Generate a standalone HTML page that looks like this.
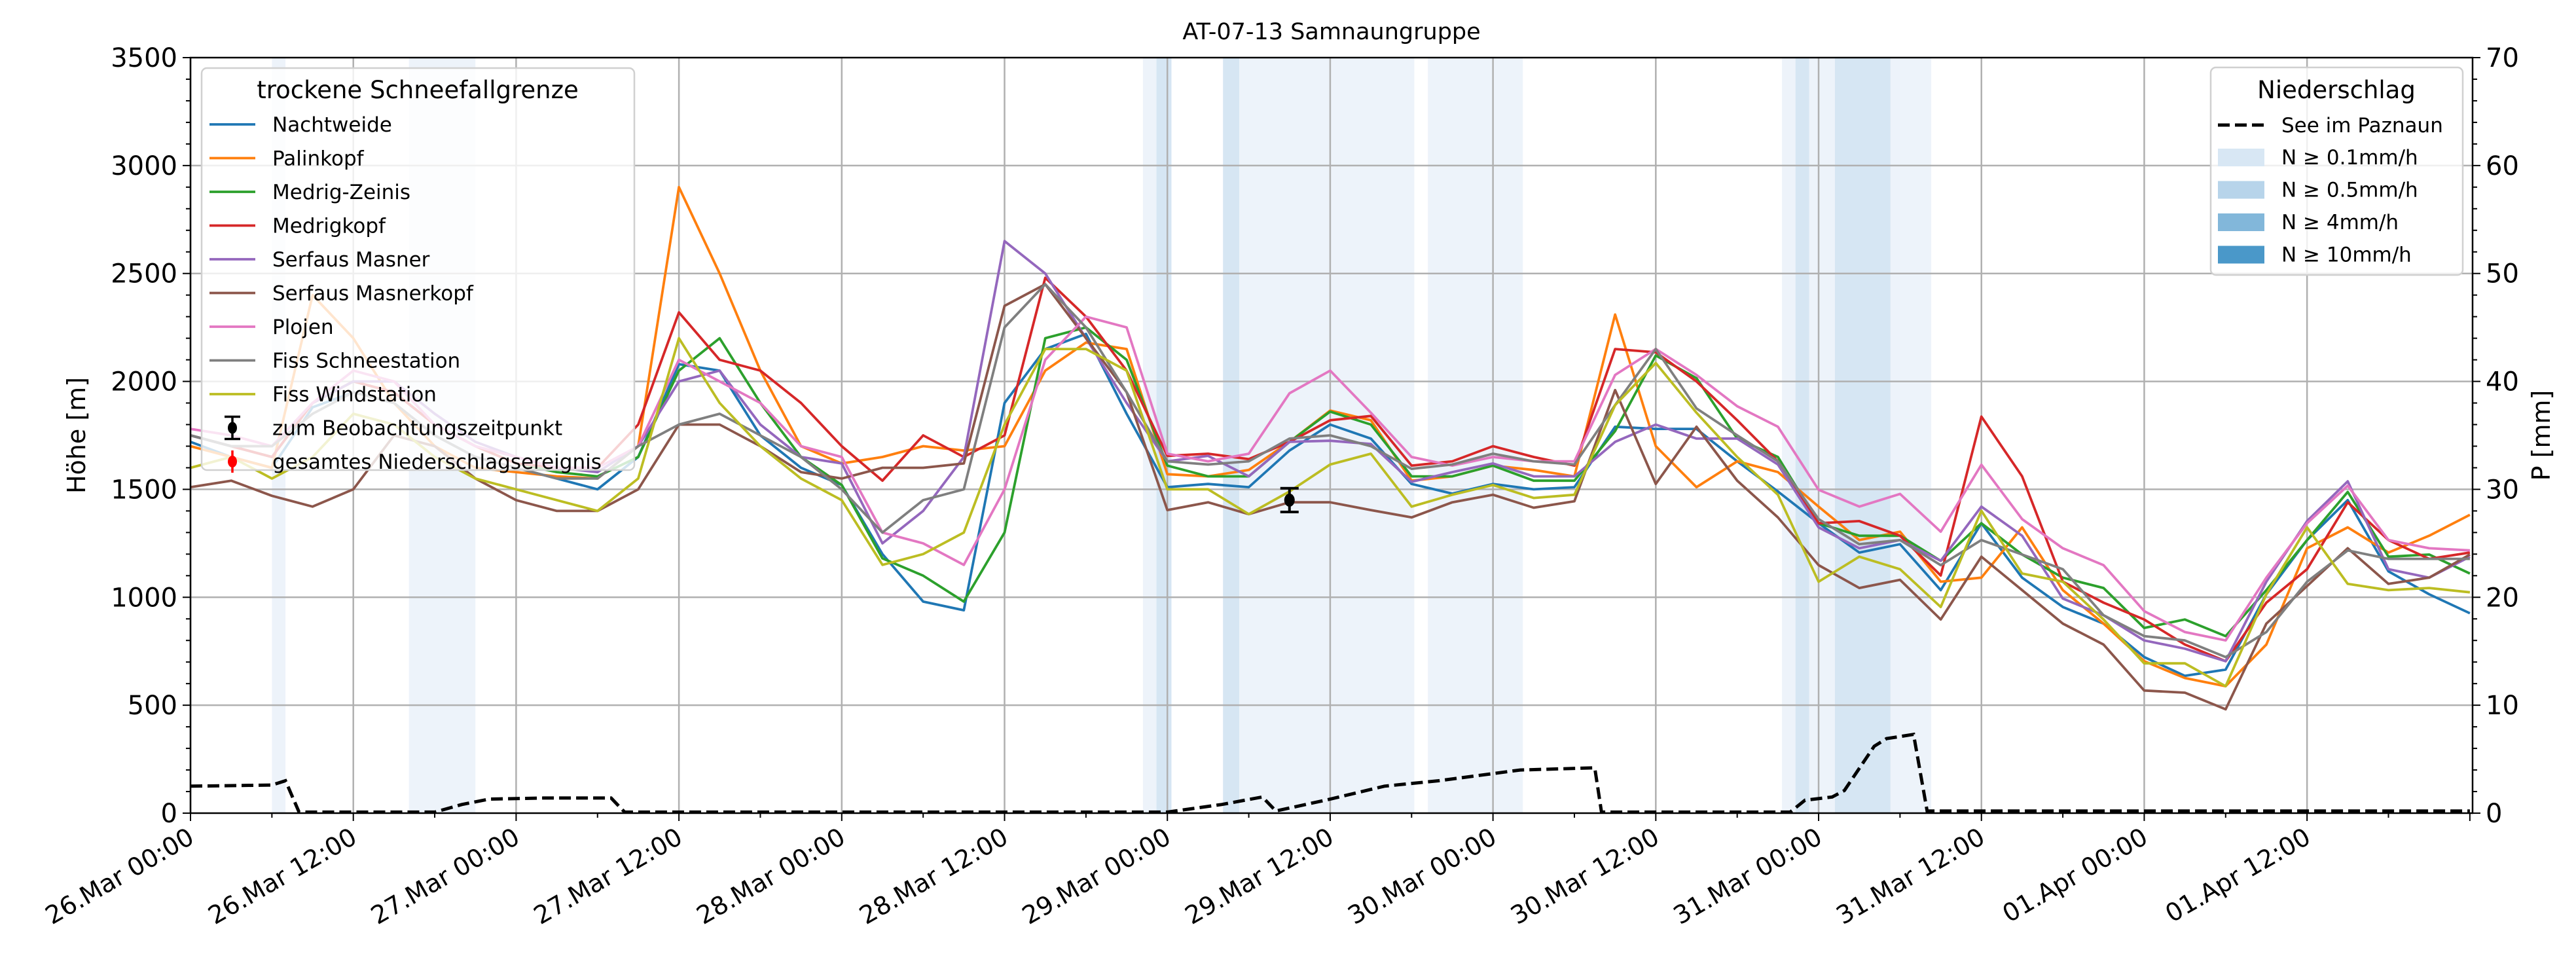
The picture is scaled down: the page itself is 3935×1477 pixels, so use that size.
<!DOCTYPE html>
<html><head><meta charset="utf-8">
<style>
html,body{margin:0;padding:0;background:#fff;}
svg{display:block;font-family:"DejaVu Sans","Liberation Sans",sans-serif;}
</style></head>
<body>
<svg id="chart" width="3935" height="1477" viewBox="0 0 3935 1477" xmlns="http://www.w3.org/2000/svg">
<rect x="0" y="0" width="3935" height="1477" fill="#fff"/>
<text x="2034" y="60" font-size="35" text-anchor="middle">AT-07-13 Samnaungruppe</text>
<g id="bands"></g>
<g id="grid"></g>
<g id="series"></g>
<g id="axes"></g>
<text x="0" y="0" font-size="38" text-anchor="middle" transform="translate(130,665) rotate(-90)">Höhe [m]</text>
<text x="0" y="0" font-size="38" text-anchor="middle" transform="translate(3895,665) rotate(-90)">P [mm]</text>
<g id="legend1"></g>
<g id="legend2"></g>
</svg>
<script>
// ---- data ----
const tickLabels = ["26.Mar 00:00","26.Mar 12:00","27.Mar 00:00","27.Mar 12:00","28.Mar 00:00","28.Mar 12:00","29.Mar 00:00","29.Mar 12:00","30.Mar 00:00","30.Mar 12:00","31.Mar 00:00","31.Mar 12:00","01.Apr 00:00","01.Apr 12:00"];
const seriesNames = ["Nachtweide","Palinkopf","Medrig-Zeinis","Medrigkopf","Serfaus Masner","Serfaus Masnerkopf","Plojen","Fiss Schneestation","Fiss Windstation"];
const seriesColors = ["#1f77b4","#ff7f0e","#2ca02c","#d62728","#9467bd","#8c564b","#e377c2","#7f7f7f","#bcbd22"];
const nachtweide = [1720,1650,1600,1880,1950,1900,1750,1650,1600,1550,1500,1650,2080,2050,1750,1600,1520,1200,980,940,1900,2150,2220,1850,
1510,1525,1510,1680,1800,1735,1525,1480,1525,1500,1510,1790,1780,1780,1630,1490,1343,1207,1246,1033,1343,1091,955,878,723,636,665,1014,1265,1450,1120,1014,926];
const palinkopf = [1700,1650,1600,2400,2200,1900,1700,1600,1580,1560,1550,1700,2900,2500,2050,1700,1620,1650,1700,1680,1700,2050,2180,2150,
1570,1560,1590,1720,1865,1820,1540,1560,1610,1590,1560,2310,1700,1510,1630,1580,1420,1265,1304,1072,1091,1324,1033,878,704,626,588,781,1227,1324,1207,1285,1382];
const medrigZeinis = [1750,1700,1650,1900,2000,1950,1800,1700,1620,1580,1560,1650,2050,2200,1900,1650,1520,1180,1100,980,1300,2200,2250,2100,
1610,1560,1560,1720,1860,1800,1560,1560,1610,1540,1540,1770,2120,2015,1735,1650,1343,1285,1285,1169,1343,1198,1091,1043,858,897,820,1033,1265,1488,1188,1198,1110];
const medrigkopf = [1750,1700,1650,1900,2000,1950,1800,1700,1620,1600,1600,1800,2320,2100,2050,1900,1700,1540,1750,1650,1750,2480,2300,2050,
1655,1665,1640,1720,1820,1840,1610,1630,1700,1650,1610,2150,2135,2000,1820,1630,1343,1353,1285,1101,1837,1560,1072,975,897,781,704,975,1130,1440,1265,1178,1207];
const serfausMasner = [1750,1700,1700,1900,2000,2000,1850,1720,1650,1600,1580,1700,2000,2050,1800,1650,1620,1250,1400,1650,2650,2500,2200,1900,
1630,1655,1560,1720,1725,1710,1535,1580,1620,1560,1560,1720,1800,1735,1735,1615,1324,1227,1265,1169,1420,1285,994,917,800,762,704,1072,1353,1537,1130,1091,1188];
const serfausMasnerkopf = [1510,1540,1470,1420,1500,1750,1700,1550,1450,1400,1400,1500,1800,1800,1700,1580,1550,1600,1600,1620,2350,2450,2200,1950,
1404,1440,1385,1440,1440,1404,1370,1440,1475,1415,1445,1960,1525,1790,1540,1370,1149,1043,1081,897,1188,1033,878,781,568,558,481,878,1052,1227,1062,1091,1198];
const plojen = [1780,1750,1700,1900,2050,2000,1800,1700,1650,1600,1600,1700,2100,2000,1900,1700,1650,1300,1250,1150,1500,2100,2300,2250,
1665,1630,1665,1945,2050,1855,1650,1610,1650,1630,1630,2030,2150,2030,1885,1790,1498,1420,1479,1304,1614,1362,1227,1149,936,839,800,1091,1343,1517,1265,1227,1217];
const fissSchnee = [1750,1700,1700,1850,1950,1900,1750,1650,1600,1550,1550,1700,1800,1850,1750,1650,1500,1300,1450,1500,2250,2450,2250,1950,
1630,1615,1630,1735,1750,1700,1595,1615,1665,1630,1615,1890,2150,1875,1750,1630,1362,1246,1265,1149,1265,1198,1130,917,820,800,723,839,1072,1217,1178,1178,1178];
const fissWind = [1600,1650,1550,1650,1850,1800,1650,1550,1500,1450,1400,1550,2200,1900,1700,1550,1450,1150,1200,1300,1800,2150,2150,2050,
1500,1500,1385,1490,1615,1665,1420,1475,1520,1460,1475,1890,2085,1855,1650,1475,1072,1188,1130,955,1401,1110,1072,897,694,694,588,1014,1324,1062,1033,1043,1023];
const allSeries = [nachtweide,palinkopf,medrigZeinis,medrigkopf,serfausMasner,serfausMasnerkopf,plojen,fissSchnee,fissWind];
const precipHours = [0,6,7,8,18,20,22,26,31,32,72,76,79,80,84,88,92,98,103.5,104,117.9,119,121,121.9,124.1,125,127,128,168];
const precipValues = [2.5,2.6,3.0,0.1,0.1,0.8,1.3,1.4,1.4,0.1,0.1,0.8,1.5,0.2,1.3,2.5,3.0,4.0,4.2,0.1,0.1,1.2,1.5,2.1,6.2,6.9,7.3,0.2,0.2];
const bandStart = [6.0,16.1,70.2,71.2,76.1,77.3,91.2,117.3,118.3,121.2,125.3];
const bandEnd   = [7.0,21.0,72.3,72.3,77.3,90.2,98.2,121.2,119.3,125.3,128.3];
const bandLevel = [0,0,0,1,1,0,0,0,1,1,0];
const obsHour = [81]; const obsValue = [1450]; const obsErr = [55];

// ---- axes ----
const L=291,R=3777,T=88,B=1242,HOURS=168.2;
const xS=h=>L+h*(R-L)/HOURS;
const yS=v=>B-v*(B-T)/3500;
const y2S=v=>B-v*(B-T)/70;
const NS="http://www.w3.org/2000/svg";
function mk(tag,attrs,parent){const e=document.createElementNS(NS,tag);for(const k in attrs)e.setAttribute(k,attrs[k]);parent.appendChild(e);return e;}
const bandColors=["#edf3fa","#d6e6f3"];
const gB=document.getElementById('bands');
bandStart.forEach((s,i)=>{const r=mk('rect',{x:xS(s),y:T,width:xS(bandEnd[i])-xS(s),height:B-T,fill:bandColors[bandLevel[i]]},gB);

});
const gG=document.getElementById('grid');
for(let i=0;i<tickLabels.length;i++){const x=xS(i*12);const l=mk('line',{x1:x,x2:x,y1:T,y2:B,stroke:'#b0b0b0','stroke-width':2.5},gG);

}
for(let v=500;v<3500;v+=500){const y=yS(v);const l=mk('line',{x1:L,x2:R,y1:y,y2:y,stroke:'#b0b0b0','stroke-width':2.5},gG);

}
const gS=document.getElementById('series');
allSeries.forEach((arr,si)=>{const n=arr.length;const pts=arr.map((v,i)=>xS(i*168/(n-1)).toFixed(1)+','+yS(v).toFixed(1)).join(' ');
const p=mk('polyline',{points:pts,fill:'none',stroke:seriesColors[si],'stroke-width':3.8,'stroke-linejoin':'round'},gS);

});
const pp=mk('polyline',{points:precipHours.map((h,i)=>xS(h).toFixed(1)+','+y2S(precipValues[i]).toFixed(1)).join(' '),fill:'none',stroke:'#000','stroke-width':5,'stroke-dasharray':'18,8'},gS);


obsHour.forEach((h,i)=>{const x=xS(h),y=yS(obsValue[i]),y1=yS(obsValue[i]+obsErr[i]),y2=yS(obsValue[i]-obsErr[i]);
const g=mk('g',{},gS);


mk('line',{x1:x,x2:x,y1:y1,y2:y2,stroke:'#000','stroke-width':4},g);
mk('line',{x1:x-14,x2:x+14,y1:y1,y2:y1,stroke:'#000','stroke-width':4},g);
mk('line',{x1:x-14,x2:x+14,y1:y2,y2:y2,stroke:'#000','stroke-width':4},g);
mk('ellipse',{cx:x,cy:y,rx:8,ry:10,fill:'#000'},g);});
// axes frame and ticks
const gA=document.getElementById('axes');
mk('rect',{x:L,y:T,width:R-L,height:B-T,fill:'none',stroke:'#000','stroke-width':2.5},gA);
for(let v=0;v<=3500;v+=100){const y=yS(v);const maj=v%500===0;mk('line',{x1:L,x2:L-(maj?12:7),y1:y,y2:y,stroke:'#000','stroke-width':2},gA);
if(maj){const t=mk('text',{x:L-20,y:y+14,'font-size':40,'text-anchor':'end'},gA);t.textContent=v;

}}
for(let v=0;v<=70;v+=2){const y=y2S(v);const maj=v%10===0;mk('line',{x1:R,x2:R+(maj?12:7),y1:y,y2:y,stroke:'#000','stroke-width':2},gA);
if(maj){const t=mk('text',{x:R+20,y:y+14,'font-size':40,'text-anchor':'start'},gA);t.textContent=v;

}}
for(let h=0;h<=168;h+=6){const x=xS(h);const maj=h%12===0;mk('line',{x1:x,x2:x,y1:B,y2:B+(maj?12:7),stroke:'#000','stroke-width':2},gA);}
tickLabels.forEach((lab,i)=>{const x=xS(i*12);const t=mk('text',{x:0,y:0,'font-size':38,'text-anchor':'end',transform:`translate(${x+8},${B+44}) rotate(-30)`},gA);t.textContent=lab;

});
// legend 1
const g1=document.getElementById('legend1');
mk('rect',{x:308,y:104,width:661,height:614,rx:8,fill:'#fff','fill-opacity':0.8,stroke:'#d0d0d0','stroke-width':2.5},g1);
const lt=mk('text',{x:638,y:150,'font-size':37,'text-anchor':'middle'},g1);lt.textContent='trockene Schneefallgrenze';
seriesNames.forEach((nm,i)=>{const y=190+i*51.5;const g=mk('g',{},g1);


mk('line',{x1:320,x2:390,y1:y,y2:y,stroke:seriesColors[i],'stroke-width':3.8},g);
const t=mk('text',{x:416,y:y+11,'font-size':31},g);t.textContent=nm;});
[['zum Beobachtungszeitpunkt','#000'],['gesamtes Niederschlagsereignis','#f00']].forEach((e,i)=>{const y=190+(9+i)*51.5;const g=mk('g',{},g1);


mk('line',{x1:355,x2:355,y1:y-17,y2:y+17,stroke:e[1],'stroke-width':3.5},g);
if(i===0){mk('line',{x1:343,x2:367,y1:y-17,y2:y-17,stroke:e[1],'stroke-width':3.5},g);mk('line',{x1:343,x2:367,y1:y+17,y2:y+17,stroke:e[1],'stroke-width':3.5},g);}
mk('ellipse',{cx:355,cy:y,rx:7,ry:9,fill:e[1]},g);
const t=mk('text',{x:416,y:y+11,'font-size':31},g);t.textContent=e[0];});
// legend 2
const g2=document.getElementById('legend2');
mk('rect',{x:3377,y:103,width:385,height:317,rx:8,fill:'#fff','fill-opacity':0.8,stroke:'#d0d0d0','stroke-width':2.5},g2);
const lt2=mk('text',{x:3569,y:150,'font-size':37,'text-anchor':'middle'},g2);lt2.textContent='Niederschlag';
{const g=mk('g',{},g2);


mk('line',{x1:3388,x2:3459,y1:191,y2:191,stroke:'#000','stroke-width':5,'stroke-dasharray':'18,8'},g);
const t=mk('text',{x:3485,y:202,'font-size':31},g);t.textContent='See im Paznaun';}
[['N ≥ 0.1mm/h','#d8e7f4'],['N ≥ 0.5mm/h','#b7d4ea'],['N ≥ 4mm/h','#82b7da'],['N ≥ 10mm/h','#4a98c9']].forEach((e,i)=>{const y=240+i*49.5;const g=mk('g',{},g2);


mk('rect',{x:3388,y:y-13,width:71,height:27,fill:e[1]},g);
const t=mk('text',{x:3485,y:y+11,'font-size':31},g);t.textContent=e[0];});
</script>
</body></html>
